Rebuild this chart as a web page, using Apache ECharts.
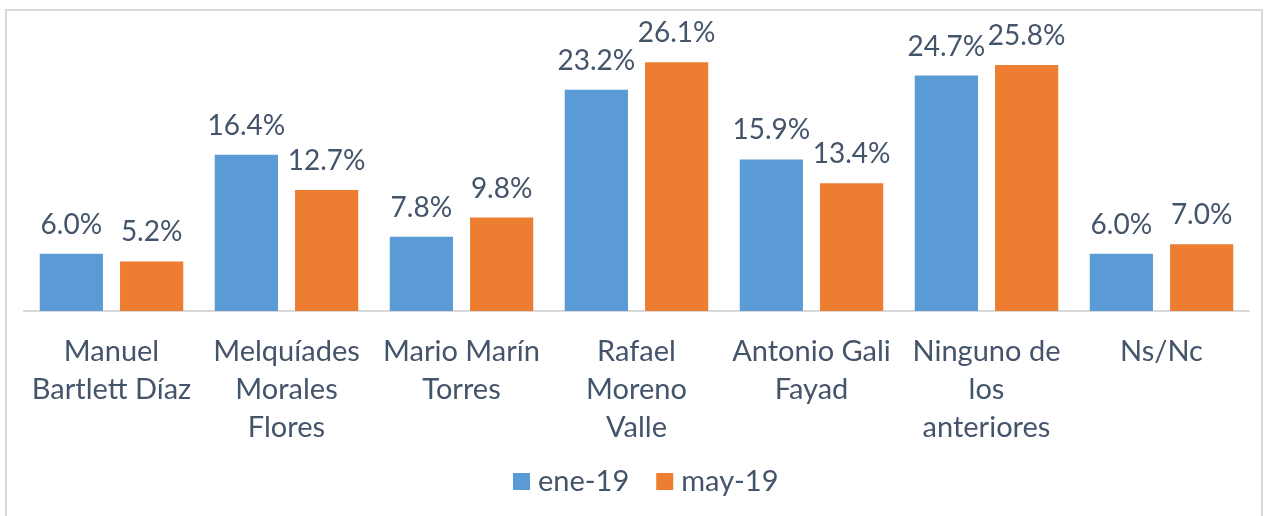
<!DOCTYPE html>
<html>
<head>
<meta charset="utf-8">
<script src="https://cdn.jsdelivr.net/npm/echarts@6/dist/echarts.min.js"></script>
<style>
  html, body { margin: 0; padding: 0; background: #fff; }
  #frame { position: absolute; left: 5px; top: 9px; width: 1258px; height: 520px; border: 2px solid #d9d9d9; box-sizing: border-box; }
  #chart { position: absolute; left: 0; top: 0; width: 1267px; height: 516px; }
</style>
</head>
<body>
<div id="frame"></div>
<div id="chart"></div>
<script>
const categories = ["Manuel\nBartlett Díaz", "Melquíades\nMorales\nFlores", "Mario Marín\nTorres", "Rafael\nMoreno\nValle", "Antonio Gali\nFayad", "Ninguno de\nlos\nanteriores", "Ns/Nc"];
const seriesNames = ["ene-19", "may-19"];
const ene19 = [6.0, 16.4, 7.8, 23.2, 15.9, 24.7, 6.0];
const may19 = [5.2, 12.7, 9.8, 26.1, 13.4, 25.8, 7.0];

const textColor = '#44546A';
const fontFamily = 'Lato, "Open Sans", sans-serif';
const chart = echarts.init(document.getElementById('chart'));
const labelCfg = {
  show: true, position: 'top', distance: 15,
  color: textColor, fontSize: 28, fontFamily: fontFamily,
  formatter: p => p.value.toFixed(1) + '%'
};
chart.setOption({
  animation: false,
  color: ['#5B9BD5', '#ED7D31'],
  grid: { left: 24, right: 18, top: 25, bottom: 205, containLabel: false },
  legend: {
    data: seriesNames, top: 462, left: 508,
    itemWidth: 17, itemHeight: 17, itemGap: 27, icon: 'rect',
    textStyle: { color: textColor, fontSize: 29, fontFamily: fontFamily, padding: [0, 0, 0, 3] }
  },
  xAxis: {
    type: 'category', data: categories,
    axisLine: { lineStyle: { color: '#d9d9d9', width: 2 } },
    axisTick: { show: false },
    axisLabel: { color: textColor, fontSize: 29, fontFamily: fontFamily, lineHeight: 38, margin: 22, interval: 0 }
  },
  yAxis: { type: 'value', min: 0, max: 30, show: false, splitLine: { show: false } },
  series: [
    { name: seriesNames[0], type: 'bar', data: ene19, barGap: '27%', barCategoryGap: '18%', label: labelCfg },
    { name: seriesNames[1], type: 'bar', data: may19, barGap: '27%', barCategoryGap: '18%', label: labelCfg }
  ]
});
</script>
</body>
</html>
